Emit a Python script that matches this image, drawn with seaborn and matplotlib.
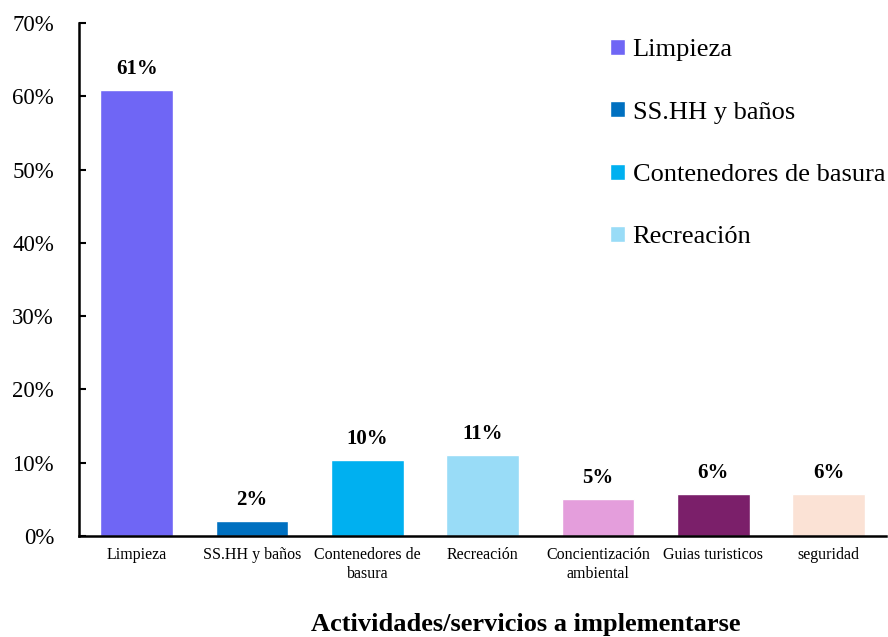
import matplotlib
matplotlib.use("Agg")
import matplotlib.pyplot as plt
import seaborn as sns
from matplotlib.ticker import FuncFormatter

# ── Data ──────────────────────────────────────────────────────
categories = ["Limpieza", "SS.HH y baños", "Contenedores de\nbasura", "Recreación",
              "Concientización\nambiental", "Guias turisticos", "seguridad"]
legend_names = ["Limpieza", "SS.HH y baños", "Contenedores de basura", "Recreación"]
values = [60.8, 2.0, 10.4, 11.0, 5.0, 5.7, 5.7]
labels = ["61%", "2%", "10%", "11%", "5%", "6%", "6%"]
colors = ["#6F66F5", "#0070C0", "#00B0F0", "#99DCF7", "#E49EDC", "#7B1F6A", "#FBE2D5"]

sns.set_style("white")
plt.rcParams["font.family"] = ["Liberation Serif", "DejaVu Serif"]
plt.rcParams["text.color"] = "black"
plt.rcParams["xtick.color"] = "black"
plt.rcParams["ytick.color"] = "black"
plt.rcParams["axes.labelcolor"] = "black"

fig = plt.figure(figsize=(8.88, 6.37), dpi=100)
ax = fig.add_axes([0.089, 0.1585, 0.909, 0.8055])

sns.barplot(x=categories, y=values, hue=categories, palette=colors,
            saturation=1, width=0.63, legend=False, ax=ax)

# value labels above bars
for i, (v, lab) in enumerate(zip(values, labels)):
    ax.annotate(lab, (i, v), xytext=(0, 8), textcoords="offset points",
                ha="center", va="bottom", fontsize=15, fontweight="bold")

ax.set_ylim(0, 70)
ax.set_xlim(-0.5, 6.5)
ax.set_yticks(range(0, 71, 10))
ax.yaxis.set_major_formatter(FuncFormatter(lambda v, p: f"{v:.0f}%"))
ax.tick_params(axis="y", direction="in", length=5, width=1.5, labelsize=16.5, pad=18, left=True)
ax.tick_params(axis="x", direction="in", length=5, width=1.5, labelsize=11.5, pad=8, bottom=True)

for s in ["top", "right"]:
    ax.spines[s].set_visible(False)
for s in ["left", "bottom"]:
    ax.spines[s].set_color("black")
    ax.spines[s].set_linewidth(1.8)

ax.set_xlabel("Actividades/servicios a implementarse", fontsize=19, fontweight="bold")
ax.xaxis.set_label_coords(0.553, -0.15)
ax.set_ylabel("")

# legend: only the first four categories
handles = ax.patches[:4]
ax.legend(handles, legend_names, loc="upper left", bbox_to_anchor=(0.635, 1.005),
          frameon=False, fontsize=19, handlelength=0.55, handleheight=0.55,
          handletextpad=0.3, labelspacing=1.52, borderaxespad=0.3)

fig.savefig("out.png", dpi=100)
